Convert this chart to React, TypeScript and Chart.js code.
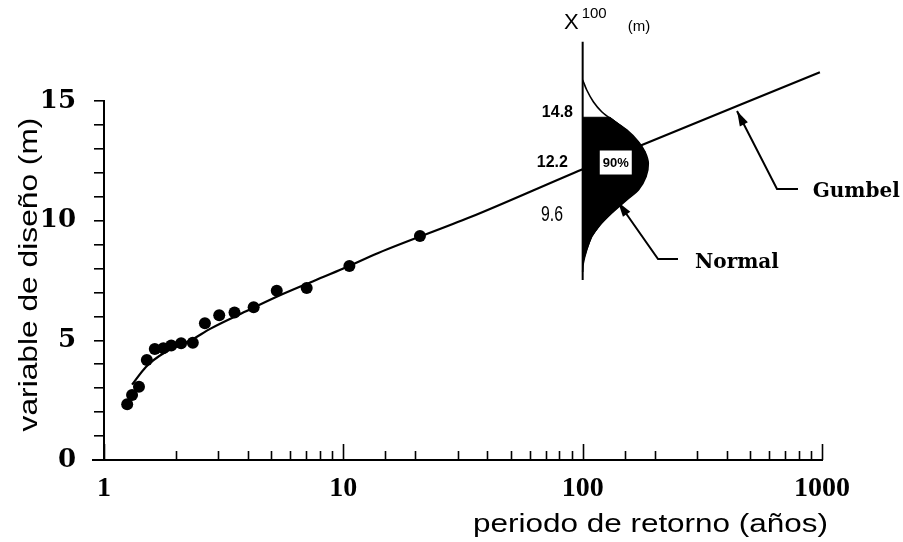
import React, { useEffect, useRef } from 'react';
import { Chart, registerables } from 'chart.js';

Chart.register(...registerables);

// ---------- data ----------
// observed points: return period (years) / design variable (m)
const obsPeriod = [1.25, 1.31, 1.4, 1.51, 1.63, 1.77, 1.91, 2.1, 2.35, 2.64, 3.03, 3.51, 4.22, 5.27, 7.03, 10.6, 20.9];
const obsValue = [2.33, 2.72, 3.06, 4.18, 4.64, 4.67, 4.78, 4.88, 4.9, 5.71, 6.05, 6.16, 6.38, 7.07, 7.19, 8.11, 9.36];

// fitted Gumbel curve
const gumbelPeriod = [1.31, 1.5, 1.8, 2.3, 2.8, 3.9, 5.35, 7.4, 10, 14, 34, 100, 980];
const gumbelValue = [3.15, 3.9, 4.5, 5.0, 5.5, 6.2, 6.85, 7.45, 8.0, 8.65, 10.15, 12.15, 16.2];

// normal distribution of X(100): outline (drawn sideways on the T = 100 line)
const normalPeriod = [100, 104, 110.8, 120.1, 130.1, 152.8, 170.9, 182.1, 188, 183.9, 170.9, 152.8, 134.3, 118.2, 109.1, 104, 100.6, 100];
const normalLevel = [15.88, 15.46, 14.97, 14.55, 14.28, 13.79, 13.3, 12.88, 12.4, 11.84, 11.28, 10.87, 10.38, 9.82, 9.33, 8.78, 8.22, 7.86];

// shaded 90 % band of the normal distribution
const bandPeriod = [100, 130.1, 152.8, 170.9, 182.1, 188, 183.9, 170.9, 152.8, 134.3, 118.2, 109.1, 104, 100.6, 100];
const bandLevel = [14.32, 14.32, 13.79, 13.3, 12.88, 12.4, 11.84, 11.28, 10.87, 10.38, 9.82, 9.33, 8.78, 8.3, 8.3];

// vertical axis of the distribution
const distAxisPeriod = [100, 100];
const distAxisLevel = [17.48, 7.52];

// tick labels
const xMajorTicks = [1, 10, 100, 1000];
const xTickLabels = ['1', '10', '100', '1000'];
const yTickLabels = ['0', '5', '10', '15'];

const xTitle = 'periodo de retorno (años)';
const yTitle = 'variable de diseño (m)';
const distLabels = ['14.8', '12.2', '9.6'];
const bandLabel = '90%';

// ---------- annotation anchors (data units) ----------
const annot = {
  distLabelAt: [
    { x: 91.1, y: 14.5, font: 'bold 16px "Liberation Sans", Arial, sans-serif', sx: 1 },
    { x: 86.8, y: 12.41, font: 'bold 16px "Liberation Sans", Arial, sans-serif', sx: 1 },
    { x: 82.8, y: 10.24, font: '22px "Liberation Sans", Arial, sans-serif', sx: 0.72 },
  ],
  bandBox: { x: 137.5, y: 12.43, w: 32, h: 24 },
  gumbelArrow: [
    { x: 793.6, y: 11.32 },
    { x: 648.6, y: 11.32 },
    { x: 441.5, y: 14.58 },
  ],
  normalArrow: [
    { x: 250.2, y: 8.4 },
    { x: 206.5, y: 8.4 },
    { x: 140.5, y: 10.78 },
  ],
  gumbelText: { x: 914, y: 11.0, text: 'Gumbel' },
  normalText: { x: 294.7, y: 8.02, text: 'Normal' },
};

const pts = (xs: number[], ys: number[]) => xs.map((x, i) => ({ x, y: ys[i] }));

const drawArrow = (ctx: CanvasRenderingContext2D, p: { x: number; y: number }[]) => {
  ctx.beginPath();
  ctx.moveTo(p[0].x, p[0].y);
  for (let i = 1; i < p.length; i++) ctx.lineTo(p[i].x, p[i].y);
  ctx.stroke();
  const a = p[p.length - 2];
  const b = p[p.length - 1];
  const ang = Math.atan2(b.y - a.y, b.x - a.x);
  const L = 15;
  const W = 4.5;
  ctx.beginPath();
  ctx.moveTo(b.x, b.y);
  ctx.lineTo(b.x - L * Math.cos(ang) + W * Math.sin(ang), b.y - L * Math.sin(ang) - W * Math.cos(ang));
  ctx.lineTo(b.x - L * Math.cos(ang) - W * Math.sin(ang), b.y - L * Math.sin(ang) + W * Math.cos(ang));
  ctx.closePath();
  ctx.fill();
};

const overlayPlugin = {
  id: 'overlay',
  afterDatasetsDraw(chart: any) {
    const { ctx, chartArea } = chart;
    const xs = chart.scales.x;
    const ys = chart.scales.y;
    const px = (v: number) => xs.getPixelForValue(v);
    const py = (v: number) => ys.getPixelForValue(v);
    ctx.save();
    ctx.fillStyle = '#000';
    ctx.strokeStyle = '#000';

    // x axis line slightly extended to the left of the y axis
    ctx.lineWidth = 2;
    ctx.beginPath();
    ctx.moveTo(chartArea.left - 12, chartArea.bottom);
    ctx.lineTo(chartArea.left, chartArea.bottom);
    ctx.stroke();

    // inward ticks on the x axis
    ctx.lineWidth = 1.6;
    for (const t of xs.ticks) {
      const xp = Math.round(px(t.value)) + 0.5;
      const len = xMajorTicks.includes(t.value) ? 16 : 9;
      ctx.beginPath();
      ctx.moveTo(xp, chartArea.bottom);
      ctx.lineTo(xp, chartArea.bottom - len);
      ctx.stroke();
    }

    // white box with 90%
    const bb = annot.bandBox;
    const bx = px(bb.x);
    const by = py(bb.y);
    ctx.fillStyle = '#fff';
    ctx.fillRect(bx - bb.w / 2, by - bb.h / 2, bb.w, bb.h);
    ctx.fillStyle = '#000';
    ctx.font = 'bold 13px "Liberation Sans", Arial, sans-serif';
    ctx.textAlign = 'center';
    ctx.textBaseline = 'middle';
    ctx.fillText(bandLabel, bx, by + 1);

    // distribution labels
    ctx.textAlign = 'right';
    ctx.textBaseline = 'middle';
    annot.distLabelAt.forEach((a, i) => {
      ctx.save();
      ctx.font = a.font;
      ctx.translate(px(a.x), py(a.y));
      ctx.scale(a.sx, 1);
      ctx.fillText(distLabels[i], 0, 0);
      ctx.restore();
    });

    // X^100 (m)
    const ax = px(distAxisPeriod[0]);
    const ay = py(distAxisLevel[0]);
    ctx.textBaseline = 'alphabetic';
    ctx.textAlign = 'right';
    ctx.font = '22px "Liberation Sans", Arial, sans-serif';
    ctx.fillText('X', ax - 4, ay - 13);
    ctx.textAlign = 'left';
    ctx.font = '15px "Liberation Sans", Arial, sans-serif';
    ctx.fillText('100', ax - 1, ay - 24);
    ctx.font = '15px "Liberation Sans", Arial, sans-serif';
    ctx.fillText('(m)', ax + 45, ay - 11);

    // arrows
    ctx.lineWidth = 2;
    drawArrow(ctx, annot.gumbelArrow.map((p) => ({ x: px(p.x), y: py(p.y) })));
    drawArrow(ctx, annot.normalArrow.map((p) => ({ x: px(p.x), y: py(p.y) })));

    ctx.font = 'bold 20px "DejaVu Serif", serif';
    ctx.textAlign = 'left';
    ctx.textBaseline = 'alphabetic';
    ctx.fillText(annot.gumbelText.text, px(annot.gumbelText.x), py(annot.gumbelText.y));
    ctx.fillText(annot.normalText.text, px(annot.normalText.x), py(annot.normalText.y));

    // axis titles
    ctx.font = '26px "Liberation Sans", Arial, sans-serif';
    ctx.save();
    ctx.translate(chartArea.right + 6, chartArea.bottom + 72);
    ctx.scale(1.21, 1);
    ctx.textAlign = 'right';
    ctx.fillText(xTitle, 0, 0);
    ctx.restore();

    ctx.save();
    ctx.translate(chartArea.left - 67.5, (chartArea.top + chartArea.bottom) / 2 - 6);
    ctx.rotate(-Math.PI / 2);
    ctx.scale(1.22, 1);
    ctx.textAlign = 'center';
    ctx.fillText(yTitle, 0, 0);
    ctx.restore();

    ctx.restore();
  },
};

export default function App() {
  const ref = useRef<HTMLCanvasElement | null>(null);

  useEffect(() => {
    document.body.style.margin = '0';
    const canvas = ref.current;
    if (!canvas) return;
    const chart = new Chart(canvas, {
      type: 'line',
      data: {
        datasets: [
          {
            label: 'observados',
            type: 'scatter',
            data: pts(obsPeriod, obsValue),
            showLine: false,
            pointRadius: 6,
            pointBackgroundColor: '#000',
            pointBorderColor: '#000',
            pointBorderWidth: 0,
            order: 0,
          } as any,
          {
            label: 'Gumbel',
            data: pts(gumbelPeriod, gumbelValue),
            borderColor: '#000',
            borderWidth: 2.2,
            pointRadius: 0,
            cubicInterpolationMode: 'monotone',
            fill: false,
            clip: false,
            order: 1,
          } as any,
          {
            label: 'Normal',
            data: pts(normalPeriod, normalLevel),
            borderColor: '#000',
            borderWidth: 1.6,
            pointRadius: 0,
            tension: 0.35,
            fill: false,
            clip: false,
            order: 2,
          } as any,
          {
            label: 'eje X100',
            data: pts(distAxisPeriod, distAxisLevel),
            borderColor: '#000',
            borderWidth: 2,
            pointRadius: 0,
            fill: false,
            clip: false,
            order: 3,
          } as any,
          {
            label: '90%',
            data: pts(bandPeriod, bandLevel),
            borderColor: '#000',
            borderWidth: 1,
            backgroundColor: '#000',
            pointRadius: 0,
            tension: 0,
            fill: 'shape',
            clip: false,
            order: 4,
          } as any,
        ],
      },
      options: {
        responsive: false,
        animation: false,
        events: [],
        layout: { padding: { top: 101, right: 81, left: 0, bottom: 0 } },
        plugins: { legend: { display: false }, tooltip: { enabled: false } },
        scales: {
          x: {
            type: 'logarithmic',
            min: 1,
            max: 1000,
            afterFit: (s: any) => {
              s.height = 82;
            },
            grid: { display: false, drawTicks: false },
            border: { display: true, color: '#000', width: 2 },
            ticks: {
              autoSkip: false,
              maxRotation: 0,
              padding: 12,
              color: '#000',
              font: { family: '"Liberation Serif", "Times New Roman", serif', size: 28, weight: 'bold' },
              callback: (v: any) => {
                const i = xMajorTicks.indexOf(Number(v));
                return i >= 0 ? xTickLabels[i] : '';
              },
            },
          },
          y: {
            type: 'linear',
            min: 0,
            max: 15,
            afterFit: (s: any) => {
              s.width = 104;
            },
            grid: { drawOnChartArea: false, drawTicks: true, tickLength: 10, color: '#000', lineWidth: 1.6 },
            border: { display: true, color: '#000', width: 2 },
            ticks: {
              stepSize: 1,
              autoSkip: false,
              padding: 18,
              color: '#000',
              font: { family: '"DejaVu Serif", serif', size: 26, weight: 'bold' },
              callback: (v: any) => {
                const n = Number(v);
                return n % 5 === 0 ? yTickLabels[n / 5] : '';
              },
            },
          },
        },
      },
      plugins: [overlayPlugin],
    });
    return () => chart.destroy();
  }, []);

  return (
    <div style={{ position: 'absolute', left: 0, top: 0, width: 903, height: 542, background: '#fff' }}>
      <canvas ref={ref} width={903} height={542} style={{ display: 'block' }} />
    </div>
  );
}
